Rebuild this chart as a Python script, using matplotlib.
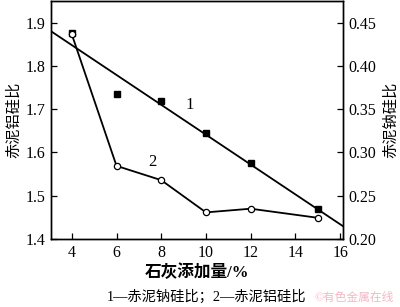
import numpy as np
import matplotlib
matplotlib.use("Agg")
import matplotlib.pyplot as plt

plt.rcParams['font.family'] = ['Liberation Serif', 'Noto Sans CJK SC']
plt.rcParams['axes.unicode_minus'] = False

# Data
lime_x = [4, 6, 8, 10, 12, 15]
na_si = [0.438, 0.368, 0.359, 0.322, 0.288, 0.2346]      # 1 — 赤泥钠硅比 (right axis)
al_si = [1.873, 1.569, 1.536, 1.4615, 1.470, 1.449]     # 2 — 赤泥铝硅比 (left axis)
x_ticks = [4, 6, 8, 10, 12, 14, 16]
left_ticks = [1.4, 1.5, 1.6, 1.7, 1.8, 1.9]
right_ticks = [0.20, 0.25, 0.30, 0.35, 0.40, 0.45]

fig = plt.figure(figsize=(4.0, 3.07), dpi=100)
ax = fig.add_axes([0.1275, 0.2215, 0.73, 0.7752])
ax2 = ax.twinx()
ax.set_zorder(ax2.get_zorder() + 1)
ax.patch.set_visible(False)

xlim = (3.07, 16.13)
ax.set_xlim(*xlim)
ax.set_ylim(1.4, 1.95)
ax2.set_ylim(0.2, 0.475)

# series 2 on left axis
ax.plot(lime_x, al_si, color='black', lw=1.3, marker='o', ms=4.5,
        mfc='white', mec='black', mew=0.9, zorder=3)

# series 1 on right axis: markers + linear fit
ax2.plot(lime_x, na_si, ls='none', marker='s', ms=4.8, color='black', zorder=3)
coef = np.polyfit(lime_x, na_si, 1)
xx = np.array(xlim)
ax2.plot(xx, np.polyval(coef, xx), color='black', lw=1.3, zorder=2)

ax.set_xticks(x_ticks)
ax.set_yticks(left_ticks)
ax.set_yticklabels([f"{v:.1f}" for v in left_ticks])
ax2.set_yticks(right_ticks)
ax2.set_yticklabels([f"{v:.2f}" for v in right_ticks])

for a in (ax, ax2):
    a.tick_params(direction='in', length=4, width=0.9, labelsize=11.5, pad=4)
    for s in a.spines.values():
        s.set_linewidth(1.0)

ax.set_ylabel('赤泥铝硅比', fontsize=11, labelpad=3)
ax2.set_ylabel('赤泥钠硅比', fontsize=11, labelpad=5, rotation=90)

ax.text(190, 307 - 105, '1', transform=None, fontsize=12, ha='center', va='center')
ax.text(152, 307 - 162, '2', transform=None, fontsize=12, ha='center', va='center')

fig.text(197 / 400, 1 - 273 / 307, '石灰添加量/%', ha='center', va='center',
         fontsize=12, fontweight='bold')
fig.text(207 / 400, 1 - 297 / 307, '1—赤泥钠硅比；2—赤泥铝硅比', ha='center',
         va='center', fontsize=10.3)
fig.text(354 / 400, 1 - 298 / 307, '©有色金属在线', ha='center', va='center',
         fontsize=8.5, color='#f2b8c6')

fig.savefig('out.png', dpi=100)
